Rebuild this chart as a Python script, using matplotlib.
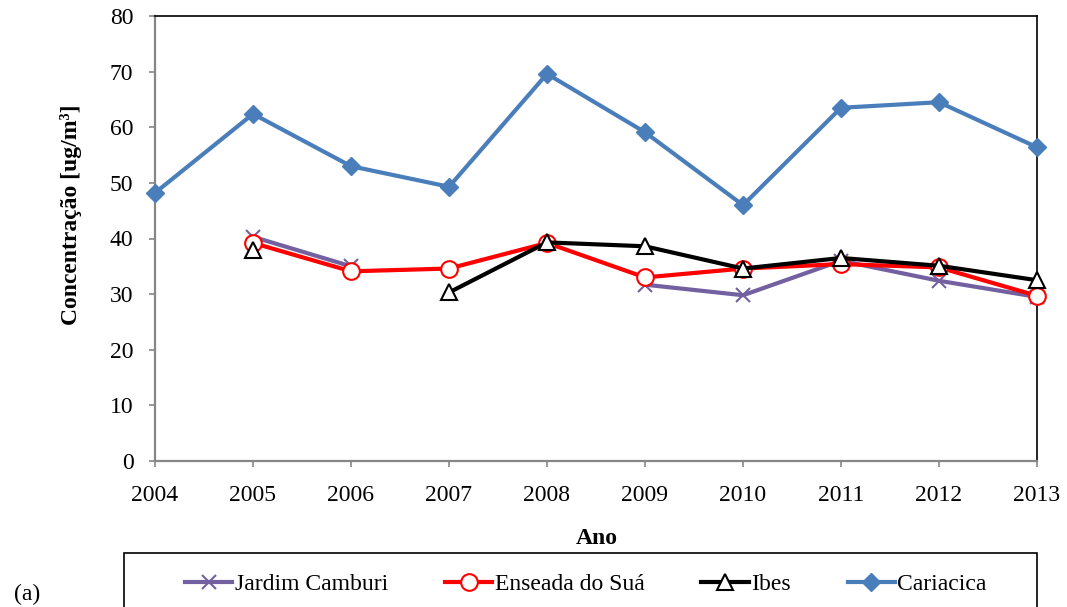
import numpy as np
import matplotlib
matplotlib.use("Agg")
import matplotlib.pyplot as plt
from matplotlib.patches import Rectangle

# Annual mean concentration per monitoring station
years = [2004, 2005, 2006, 2007, 2008, 2009, 2010, 2011, 2012, 2013]
jardim_camburi = [np.nan, 40.3, 35.0, np.nan, np.nan, 31.7, 29.8, 36.0, 32.4, 29.5]
enseada_do_sua = [np.nan, 39.2, 34.1, 34.6, 39.2, 33.0, 34.6, 35.4, 34.8, 29.7]
ibes = [np.nan, 38.0, np.nan, 30.3, 39.3, 38.6, 34.6, 36.5, 35.1, 32.5]
cariacica = [48.2, 62.4, 53.0, 49.3, 69.6, 59.1, 46.0, 63.5, 64.5, 56.4]

y_ticks = [0, 10, 20, 30, 40, 50, 60, 70, 80]

plt.rcParams['font.family'] = ['Liberation Serif', 'DejaVu Serif']
FS = 17

W, H = 1067, 607
fig = plt.figure(figsize=(W / 100, H / 100), dpi=100)
ax = fig.add_axes([155 / W, 1 - 461 / H, 882 / W, 445 / H])

gray = '#868686'
purple = '#7360A0'
blue = '#4A7EBB'

ax.plot(years, jardim_camburi, color=purple, lw=3, marker='x', ms=10, mew=1.5,
        mec=purple, label='Jardim Camburi', clip_on=False, zorder=3)
ax.plot(years, enseada_do_sua, color='#FF0000', lw=3, marker='o', ms=12, mew=1.5,
        mfc='white', mec='#FF0000', label='Enseada do Suá', clip_on=False, zorder=4)
ax.plot(years, ibes, color='black', lw=3, marker='^', ms=11, mew=1.5,
        mfc='white', mec='black', label='Ibes', clip_on=False, zorder=5)
ax.plot(years, cariacica, color=blue, lw=3, marker='D', ms=9, mew=1,
        mfc=blue, mec=blue, label='Cariacica', clip_on=False, zorder=6)

ax.set_xlim(2004, 2013)
ax.set_ylim(0, 80)
ax.set_xticks(years)
ax.set_yticks(y_ticks)
ax.tick_params(axis='both', direction='out', length=4.5, width=1.2, color=gray,
               labelsize=FS)
ax.tick_params(axis='x', pad=13)
ax.tick_params(axis='y', pad=11)

for side in ('left', 'bottom'):
    ax.spines[side].set_color(gray)
    ax.spines[side].set_linewidth(1.6)
for side in ('top', 'right'):
    ax.spines[side].set_color('black')
    ax.spines[side].set_linewidth(1.2)

fig.text(597 / W, 1 - 538 / H, 'Ano', ha='center', va='center',
         fontsize=FS, fontweight='bold')
fig.text(71 / W, 1 - 215 / H, 'Concentração [ug/m³]', ha='center', va='center',
         rotation=90, fontsize=FS, fontweight='bold')

# Legend box running past the bottom edge
fig.add_artist(Rectangle((124 / W, -0.05), (1037 - 124) / W, 1 - 553 / H + 0.05,
                         transform=fig.transFigure, fill=False,
                         edgecolor='black', lw=1.2))

handles, labels = ax.get_legend_handles_labels()
fig.legend(handles, labels, loc='center left', bbox_to_anchor=(185 / W, 1 - 584 / H),
           ncol=4, frameon=False, fontsize=FS, handlelength=2.0,
           handletextpad=0.1, columnspacing=2.42, borderpad=0, borderaxespad=0)

fig.text(14 / W, 2 / H, '(a)', ha='left', va='bottom', fontsize=FS)

fig.savefig('out.png', dpi=100)
